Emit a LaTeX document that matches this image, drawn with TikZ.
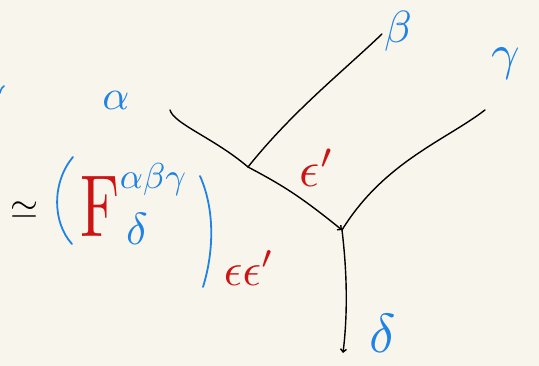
\documentclass[tikz,border=0pt]{standalone}
\usetikzlibrary{arrows.meta}
\definecolor{bg}{RGB}{248,246,236}
\definecolor{hblue}{RGB}{30,130,230}
\definecolor{hred}{RGB}{205,20,20}
\newcommand\hwsym[2]{\scalebox{#1}{$#2$}}
\begin{document}
\begin{tikzpicture}[x=1pt,y=-1pt, line cap=round, line join=round,
  wire/.style={black, line width=1.4pt},
  ink/.style={hblue, line width=1.8pt},
  lbl/.style={hblue, inner sep=0pt},
  rlbl/.style={hred, inner sep=0pt}]
\fill[bg] (0,0) rectangle (539,366);
\useasboundingbox (0,0) rectangle (539,366);
% vertices
\coordinate (a) at (170,110);
\coordinate (j) at (248,167);
\coordinate (v) at (342,230);
\coordinate (b) at (382,34);
\coordinate (c) at (485,110);
\coordinate (d) at (343,353);
% wires
\draw[wire] (a) .. controls (174,124) and (214,138) .. (j);
\draw[wire, -{Straight Barb[length=3pt,width=6pt]}] (j) .. controls (282,185) and (300,196) .. (v);
\draw[wire] (j) .. controls (292,112) and (340,74) .. (b);
\draw[wire] (c) .. controls (446,140) and (384,162) .. (v);
\draw[wire, -{Straight Barb[length=3pt,width=6pt]}] (v) .. controls (348,280) and (347,320) .. (d);
% labels
\node[lbl] (alpha) at (116,100) {\hwsym{4.2}{\alpha}};
\node[lbl] (beta) at (398,31) {\hwsym{4.5}{\beta}};
\node[lbl] (gamma) at (506,64) {\hwsym{5}{\gamma}};
\node[lbl] (delta) at (383,333) {\hwsym{5.5}{\delta}};
\node[rlbl] (eprime) at (317,168) {\hwsym{5}{\epsilon'}};
% equation
\node[inner sep=0pt] (sim) at (24,210) {\hwsym{3.6}{\simeq}};
\draw[ink] (73,157) .. controls (52,182) and (52,222) .. (72,244);
\draw[ink] (200,176) .. controls (216,212) and (213,255) .. (203,287);
\node[hred, inner sep=0pt] (F) at (100,207) {\scalebox{6}[8.8]{F}};
\node[lbl] (upper) at (153,180) {\hwsym{3.6}{\alpha\beta\gamma}};
\node[lbl] (lower) at (137,229) {\hwsym{4.5}{\delta}};
\node[rlbl] (ee) at (249,268) {\hwsym{4.6}{\epsilon\epsilon'}};
\draw[ink, line width=1.5pt] (0,93) .. controls (1,89) and (2,87) .. (4,86);
\end{tikzpicture}
\end{document}
